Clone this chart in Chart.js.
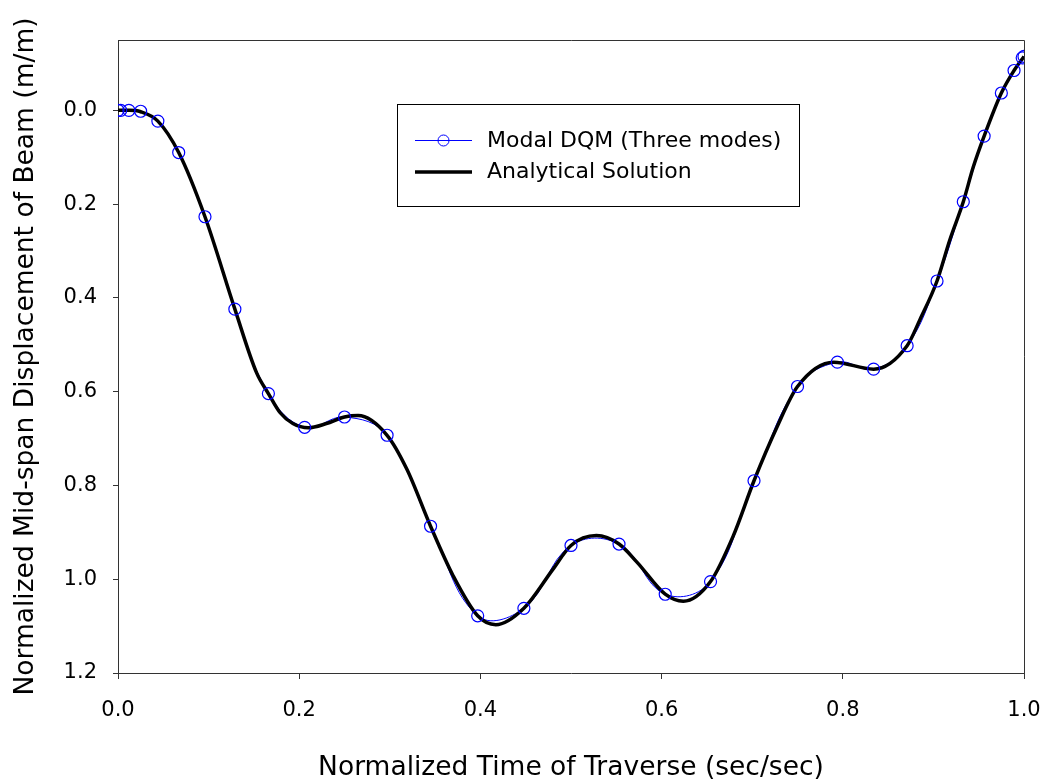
<!DOCTYPE html>
<html>
<head>
<meta charset="utf-8">
<script src="https://cdn.jsdelivr.net/npm/chart.js@4"></script>
<style>
  body { margin: 0; background: #fff; }
  #wrap { width: 1047px; height: 784px; }
</style>
</head>
<body>
<div id="wrap"><canvas id="beam"></canvas></div>
<script>
// Modal DQM points (three modes)
var dqmX = [0, 0.003, 0.012, 0.025, 0.044, 0.067, 0.096, 0.129, 0.166, 0.206, 0.250, 0.297, 0.345, 0.397, 0.448,
            0.500, 0.553, 0.604, 0.654, 0.702, 0.750, 0.794, 0.834, 0.871, 0.904, 0.933, 0.956, 0.975, 0.989, 0.998, 1.0];
var dqmY = [0, 0, 0, 0.002, 0.023, 0.09, 0.227, 0.424, 0.604, 0.676, 0.654, 0.693, 0.887, 1.078, 1.062,
            0.928, 0.925, 1.032, 1.005, 0.79, 0.589, 0.537, 0.552, 0.502, 0.364, 0.195, 0.055, -0.037, -0.085, -0.112, -0.115];

// Analytical solution
var anaX = [0, 0.012, 0.025, 0.044, 0.067, 0.096, 0.129, 0.153, 0.166, 0.179, 0.193, 0.21, 0.23, 0.25, 0.265,
            0.297, 0.319, 0.345, 0.37, 0.397, 0.417, 0.448, 0.48, 0.5, 0.528, 0.553, 0.573, 0.604, 0.624, 0.654,
            0.679, 0.702, 0.727, 0.75, 0.79, 0.834, 0.871, 0.885, 0.904, 0.918, 0.933, 0.944, 0.956, 0.975, 0.989, 1.0];
var anaY = [0, 0, 0.003, 0.023, 0.09, 0.227, 0.424, 0.56, 0.604, 0.645, 0.668, 0.677, 0.668, 0.654, 0.651,
            0.693, 0.766, 0.887, 0.993, 1.078, 1.097, 1.062, 0.979, 0.928, 0.907, 0.925, 0.964, 1.032, 1.047, 1.005,
            0.908, 0.79, 0.677, 0.589, 0.537, 0.552, 0.502, 0.447, 0.364, 0.277, 0.195, 0.121, 0.055, -0.037, -0.085, -0.115];

var xTicks = [0, 0.2, 0.4, 0.6, 0.8, 1.0];
var yTicks = [0, 0.2, 0.4, 0.6, 0.8, 1.0, 1.2];

var legendLabels = ['Modal DQM (Three modes)', 'Analytical Solution'];

function pts(xs, ys) {
  return xs.map(function (x, i) { return { x: x, y: ys[i] }; });
}

var FONT = "'DejaVu Sans', 'Liberation Sans', Arial, sans-serif";
var AXIS = '#333';

// box on top/right + the legend inside the plot
var frameAndLegend = {
  id: 'frameAndLegend',
  afterDraw: function (chart) {
    var c = chart.ctx, a = chart.chartArea;
    c.save();
    c.strokeStyle = AXIS;
    c.lineWidth = 1;
    c.beginPath();
    c.moveTo(a.left, a.top + 0.5);
    c.lineTo(a.right + 0.5, a.top + 0.5);
    c.lineTo(a.right + 0.5, a.bottom);
    c.stroke();

    // legend
    var lx = 397.5, ly = 104.5, lw = 402, lh = 102;
    c.fillStyle = '#fff';
    c.fillRect(lx, ly, lw, lh);
    c.strokeStyle = '#000';
    c.strokeRect(lx, ly, lw, lh);

    c.strokeStyle = '#0000ff';
    c.lineWidth = 1;
    c.beginPath();
    c.moveTo(415, 140.5); c.lineTo(472, 140.5);
    c.stroke();
    c.beginPath();
    c.arc(443.5, 140.5, 5.5, 0, Math.PI * 2);
    c.stroke();

    c.strokeStyle = '#000';
    c.lineWidth = 3.5;
    c.beginPath();
    c.moveTo(415, 172); c.lineTo(472, 172);
    c.stroke();

    c.fillStyle = '#000';
    c.font = '22px ' + FONT;
    c.textBaseline = 'middle';
    c.fillText(legendLabels[0], 487, 141);
    c.fillText(legendLabels[1], 487, 172);
    c.restore();
  }
};

var ctx = document.getElementById('beam').getContext('2d');

var beamChart = new Chart(ctx, {
  type: 'scatter',
  data: {
    datasets: [
      {
        label: legendLabels[0] + ' points',
        data: pts(dqmX, dqmY),
        showLine: false,
        pointStyle: 'circle',
        pointRadius: 6,
        pointBorderWidth: 1.2,
        pointBorderColor: '#0000ff',
        pointBackgroundColor: 'rgba(0,0,0,0)',
        order: 0
      },
      {
        label: legendLabels[1],
        data: pts(anaX, anaY),
        showLine: true,
        borderColor: '#000',
        borderWidth: 3.5,
        pointRadius: 0,
        cubicInterpolationMode: 'monotone',
        order: 1
      },
      {
        label: legendLabels[0],
        data: pts(dqmX, dqmY),
        showLine: true,
        borderColor: '#0000ff',
        borderWidth: 1,
        pointRadius: 0,
        tension: 0.4,
        order: 2
      }
    ]
  },
  options: {
    responsive: true,
    maintainAspectRatio: false,
    animation: false,
    layout: { padding: { top: 40, right: 23, left: 0, bottom: 0 } },
    plugins: {
      legend: { display: false },
      tooltip: { enabled: false }
    },
    scales: {
      x: {
        type: 'linear',
        min: 0,
        max: 1,
        afterBuildTicks: function (axis) { axis.ticks = xTicks.map(function (v) { return { value: v }; }); },
        afterFit: function (axis) {
          axis.height = 111;
          axis.paddingLeft = 0;
          axis.paddingRight = 0;
        },
        grid: { drawOnChartArea: false, drawTicks: true, tickLength: 6, color: AXIS },
        border: { display: true, color: AXIS, width: 1 },
        ticks: {
          color: '#000',
          padding: 19,
          maxRotation: 0,
          font: { family: FONT, size: 21 },
          callback: function (v) { return Number(v).toFixed(1); }
        },
        title: {
          display: true,
          text: 'Normalized Time of Traverse (sec/sec)',
          color: '#000',
          font: { family: FONT, size: 26.5 },
          padding: { top: 8, bottom: 0 }
        }
      },
      y: {
        type: 'linear',
        reverse: true,
        min: -0.15,
        max: 1.2,
        afterBuildTicks: function (axis) { axis.ticks = yTicks.map(function (v) { return { value: v }; }); },
        afterFit: function (axis) { axis.width = 118; },
        grid: { drawOnChartArea: false, drawTicks: true, tickLength: 5, color: AXIS },
        border: { display: true, color: AXIS, width: 1 },
        ticks: {
          color: '#000',
          padding: 16,
          font: { family: FONT, size: 21 },
          callback: function (v) { return Number(v).toFixed(1); }
        },
        title: {
          display: true,
          text: 'Normalized Mid-span Displacement of Beam (m/m)',
          color: '#000',
          font: { family: FONT, size: 26.5 },
          padding: { top: 10, bottom: 0 }
        }
      }
    }
  },
  plugins: [frameAndLegend]
});
</script>
</body>
</html>
